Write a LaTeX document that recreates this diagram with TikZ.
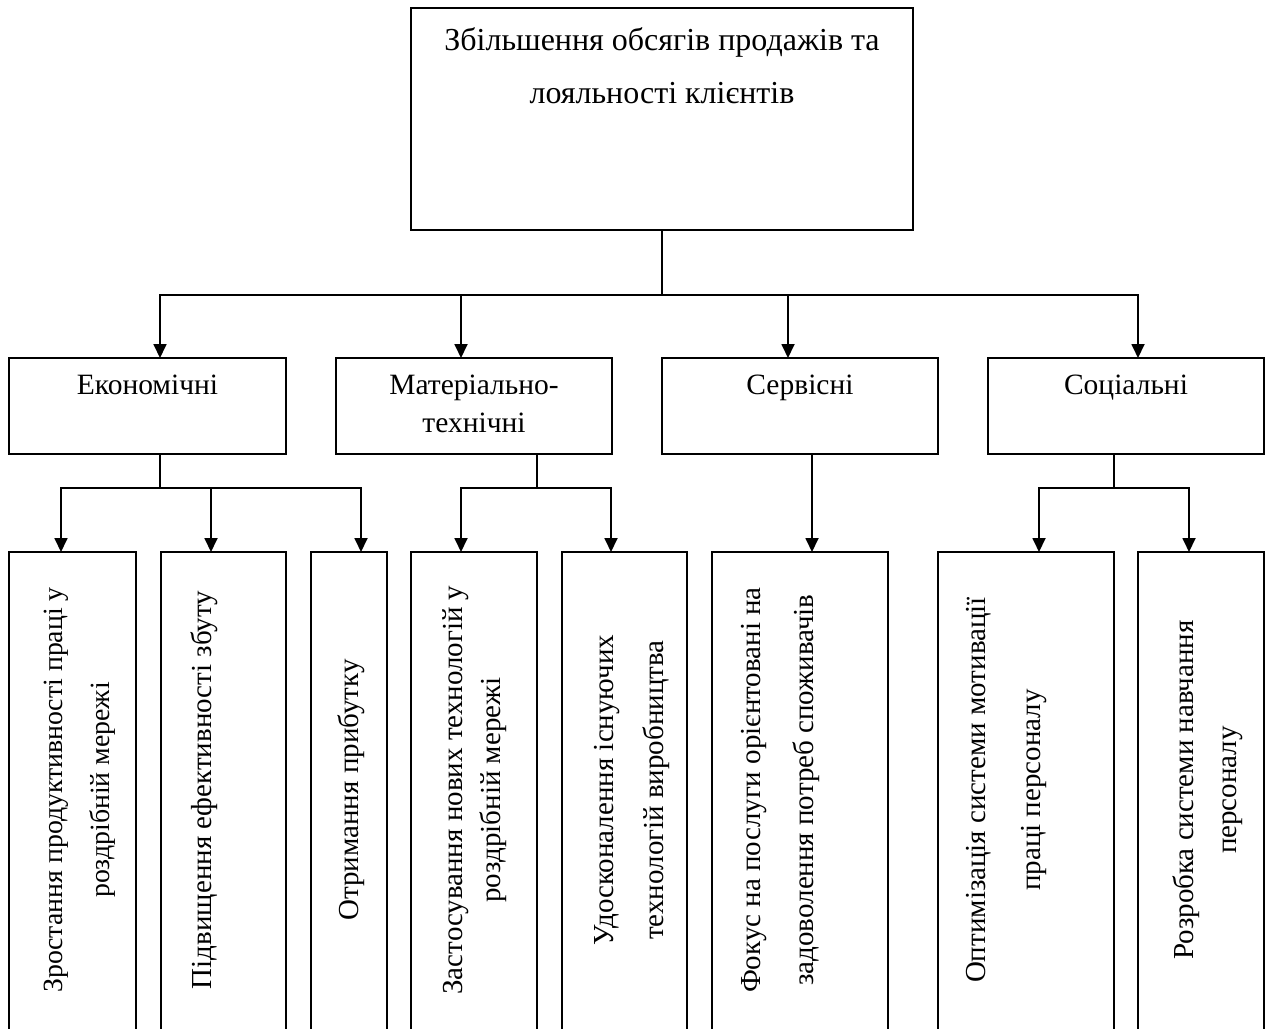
\documentclass[tikz,border=0pt]{standalone}
\usepackage{fontspec}
\setmainfont{Liberation Serif}
\usetikzlibrary{arrows.meta}
\begin{document}
\begin{tikzpicture}[x=1pt,y=-1pt,
  every node/.style={inner sep=0pt, outer sep=0pt},
  ln/.style={line width=1.8pt},
  arr/.style={line width=1.8pt,-{Triangle[width=13pt,length=14pt]}},
  box/.style={draw, line width=1.8pt, rectangle, align=center, font=\fontsize{29.5}{38}\selectfont},
  vbox/.style={draw, line width=1.8pt, rectangle, minimum height=488pt},
  vtext/.style={rotate=90, align=center}]
\useasboundingbox (0,0) rectangle (1266,1028);
\clip (0,0) rectangle (1266,1028);

% top box
\node[box, minimum width=502pt, minimum height=222pt, font=\fontsize{32}{53}\selectfont] (top) at (662,119)
  {\strut Збільшення обсягів продажів та\\ \strut лояльності клієнтів\\ \strut\\ \strut};

% category boxes
\node[box, minimum width=277pt, minimum height=96pt] (c1) at (147.5,406) {\strut Економічні\\ \strut};
\node[box, minimum width=276pt, minimum height=96pt] (c2) at (474,406) {\strut Матеріально-\\ \strut технічні};
\node[box, minimum width=276pt, minimum height=96pt] (c3) at (800,406) {\strut Сервісні\\ \strut};
\node[box, minimum width=276pt, minimum height=96pt] (c4) at (1126,406) {\strut Соціальні\\ \strut};

% vertical boxes
\node[vbox, minimum width=127pt] (v1) at (72.5,796) {};
\node[vbox, minimum width=125pt] (v2) at (223.5,796) {};
\node[vbox, minimum width=76pt]  (v3) at (349,796) {};
\node[vbox, minimum width=126pt] (v4) at (474,796) {};
\node[vbox, minimum width=125pt] (v5) at (624.5,796) {};
\node[vbox, minimum width=176pt] (v6) at (800,796) {};
\node[vbox, minimum width=176pt] (v7) at (1026,796) {};
\node[vbox, minimum width=126pt] (v8) at (1201,796) {};

% vertical texts
\node[vtext, font=\fontsize{27.8}{47}\selectfont] (t1) at (77,790) {\strut Зростання продуктивності праці у\\ \strut роздрібній мережі};
\node[vtext, font=\fontsize{29}{48}\selectfont] (t2) at (201.5,790) {\strut Підвищення ефективності збуту};
\node[vtext, font=\fontsize{29}{48}\selectfont] (t3) at (348.5,790) {\strut Отримання прибутку};
\node[vtext, font=\fontsize{29}{38}\selectfont] (t4) at (473.5,790) {\strut Застосування нових технологій у\\ \strut роздрібній мережі};
\node[vtext, font=\fontsize{29}{50}\selectfont] (t5) at (628,790) {\strut Удосконалення існуючих\\ \strut технологій виробництва};
\node[vtext, font=\fontsize{29}{53}\selectfont] (t6) at (776,790) {\strut Фокус на послуги орієнтовані на\\ \strut задоволення потреб споживачів};
\node[vtext, font=\fontsize{29}{55}\selectfont] (t7) at (1001.5,790) {\strut Оптимізація системи мотивації\\ \strut праці персоналу};
\node[vtext, font=\fontsize{29}{43}\selectfont] (t8) at (1206,790) {\strut Розробка системи навчання\\ \strut персоналу};

% junction coordinates
\coordinate (j0) at (662,295);
\coordinate (j2) at (461,295);
\coordinate (j3) at (788,295);
\coordinate (xa) at (160,0);
\coordinate (xd) at (1138,0);

\coordinate (k1) at (160,488);
\coordinate (k2) at (537,488);
\coordinate (k4) at (1114,488);
\coordinate (x1) at (61,0);
\coordinate (x2) at (211,0);
\coordinate (x3) at (361,0);
\coordinate (x4) at (461,0);
\coordinate (x5) at (611,0);
\coordinate (x6) at (812,0);
\coordinate (x7) at (1039,0);
\coordinate (x8) at (1189,0);

% level 1 connectors
\draw[ln] (top.south) -- (j0);
\draw[arr] (j0) -| (c1.north -| xa);
\draw[arr] (j0) -| (c4.north -| xd);
\draw[arr] (j2) -- (c2.north -| j2);
\draw[arr] (j3) -- (c3.north -| j3);

% level 2 connectors
\draw[ln] (c1.south -| k1) -- (k1);
\draw[arr] (k1) -| (v1.north -| x1);
\draw[arr] (k1) -| (v3.north -| x3);
\draw[arr] (k1 -| x2) -- (v2.north -| x2);

\draw[ln] (c2.south -| k2) -- (k2);
\draw[arr] (k2) -| (v4.north -| x4);
\draw[arr] (k2) -| (v5.north -| x5);

\draw[arr] (c3.south -| x6) -- (v6.north -| x6);

\draw[ln] (c4.south -| k4) -- (k4);
\draw[arr] (k4) -| (v7.north -| x7);
\draw[arr] (k4) -| (v8.north -| x8);
\end{tikzpicture}
\end{document}
